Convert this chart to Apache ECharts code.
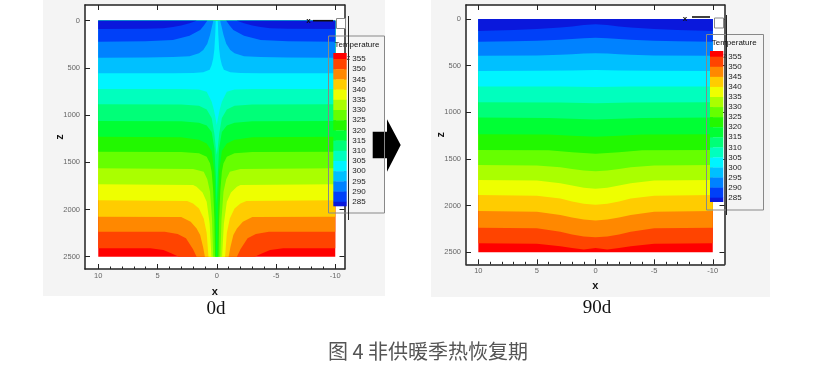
<!DOCTYPE html>
<html><head><meta charset="utf-8">
<script src="https://cdn.jsdelivr.net/npm/echarts@6/dist/echarts.min.js"></script>
<style>html,body{margin:0;padding:0;background:#fff}#c{width:830px;height:375px}</style>
</head><body><div id="c"></div><script>
// ---- data ----
const levels = [355, 350, 345, 340, 335, 330, 325, 320, 315, 310, 305, 300, 295, 290, 285];
// band colours, coldest (<285) first, hottest (>355) last
const bandColors = ['#0a18dc','#0040f8','#0082ff','#00c0ff','#00f4ff','#00ffbe','#00ff78','#00ff34',
                    '#22f800','#66ff00','#aaff00','#eeff00','#ffcc00','#ff8800','#ff4400','#ff0000'];
const xMajorTicks = [10, 5, 0, -5, -10];
const xMinorTicks = [9, 8, 7, 6, 4, 3, 2, 1, -1, -2, -3, -4, -6, -7, -8, -9];
const zTicks = [0, 500, 1000, 1500, 2000, 2500];
const panelTitles = ['0d', '90d'];
const caption = '图 4 非供暖季热恢复期';
// contour lines (level 285 ... 355), half profile [x, z] from x=10 to x=0, mirrored about x=0
const contours0d = [
  [[10,88],[6,86],[4.5,80],[3.7,68],[3,52],[2.3,28],[1.7,0],[0,0]],
  [[10,222],[6,219],[3.7,204],[2.3,159],[1.4,98],[1.1,55],[0.85,10],[0.8,0],[0,0]],
  [[10,392],[6,390],[3.7,386],[2.3,376],[1.5,345],[1.14,310],[0.8,245],[0.57,151],[0.4,60],[0.29,0],[0,0]],
  [[10,557],[3.7,557],[2,555],[1.14,545],[0.6,520],[0.43,470],[0.3,400],[0.2,300],[0.13,150],[0.1,40],[0.08,0],[0,0]],
  [[10,723],[3,723],[1.5,728],[0.85,752],[0.43,858],[0.25,940],[0.12,1020],[0,1105]],
  [[10,886],[3,888],[1.5,900],[0.85,940],[0.43,1030],[0.2,1200],[0.08,1350],[0,1420]],
  [[10,1062],[3,1065],[1.5,1080],[0.85,1110],[0.43,1180],[0.2,1350],[0.08,1650],[0,1950]],
  [[10,1229],[3,1235],[1.5,1260],[0.85,1300],[0.43,1380],[0.2,1600],[0.1,2000],[0.05,2500],[0,2500]],
  [[10,1388],[3,1390],[1.5,1405],[0.85,1441],[0.57,1510],[0.43,1600],[0.3,1800],[0.2,2100],[0.15,2500],[0,2500]],
  [[10,1564],[2,1570],[1.1,1599],[0.8,1680],[0.57,1811],[0.4,2100],[0.3,2500],[0,2500]],
  [[10,1733],[2,1740],[1.7,1758],[1.2,1820],[0.85,1917],[0.6,2150],[0.45,2500],[0,2500]],
  [[10,1903],[2.5,1910],[2,1935],[1.5,1990],[1.1,2094],[0.85,2250],[0.7,2500],[0,2500]],
  [[10,2076],[3,2080],[2.2,2129],[1.7,2200],[1.4,2270],[1.15,2400],[1.0,2500],[0,2500]],
  [[10,2235],[4.4,2235],[3.3,2260],[2.6,2305],[2.0,2420],[1.7,2500],[0,2500]],
  [[10,2411],[5.6,2411],[4.5,2430],[3.8,2465],[3.2,2500],[0,2500]]
];
const contours90d = [
  [[10,128],[7,118],[5,107],[3,90],[2,80],[1,65],[0,57]],
  [[10,243],[7,238],[5,233],[3,222],[2,214],[1,206],[0,202]],
  [[10,393],[5,390],[3,383],[2,378],[1,370],[0,366]],
  [[10,557],[5,556],[2,552],[0,547]],
  [[10,723],[3,724],[0,728]],
  [[10,893],[3,896],[0,903]],
  [[10,1057],[4,1060],[2,1068],[0,1078]],
  [[10,1235],[4,1238],[2,1250],[0,1262]],
  [[10,1404],[4,1408],[2,1428],[0,1445]],
  [[10,1565],[5,1570],[3,1590],[2,1608],[1,1625],[0,1632]],
  [[10,1726],[5,1732],[3,1760],[2,1785],[1,1808],[0,1818]],
  [[10,1886],[5,1893],[3,1925],[2,1955],[1,1980],[0,1990]],
  [[10,2058],[5,2066],[3,2100],[2,2128],[1,2150],[0,2160]],
  [[10,2237],[5,2242],[3,2280],[2,2310],[1,2332],[0,2340]],
  [[10,2404],[5,2410],[3,2435],[2,2455],[1,2470],[0,2455]]
];

// ---- helpers ----
function fullPath(half) {
  const other = half.slice().reverse().filter(p => p[0] > 0).map(p => [-p[0], p[1]]);
  return half.concat(other);
}
function bandSeries(contours, xi, yi) {
  const n = contours.length;
  const data = [];
  for (let k = n; k >= 0; k--) data.push([k]);
  return {
    type: 'custom', coordinateSystem: 'cartesian2d', xAxisIndex: xi, yAxisIndex: yi,
    clip: true, silent: true, animation: false, data: data,
    renderItem: function (params, api) {
      const k = api.value(0);
      let pts;
      if (k === n) pts = [[10, 0], [10, 2500], [-10, 2500], [-10, 0]];
      else pts = [[10, 0]].concat(fullPath(contours[k]), [[-10, 0]]);
      return { type: 'polygon', z2: 100 - k,
        shape: { points: pts.map(p => api.coord(p)) },
        style: { fill: bandColors[k], stroke: null } };
    }
  };
}
const F = '"Liberation Sans", Arial, sans-serif';
const lineSt = { color: '#222', width: 1.5 };
const plain = v => String(v);
function xAxes(g, xr, nameGap) {
  return [
    { gridIndex: g, type: 'value', position: 'bottom', min: xr[0], max: xr[1], inverse: true,
      axisLine: { show: true, onZero: false, lineStyle: lineSt }, splitLine: { show: false },
      axisTick: { show: true, inside: true, length: 5, customValues: xMajorTicks, lineStyle: { color: '#222', width: 1 } },
      axisLabel: { show: true, margin: 3, customValues: xMajorTicks, formatter: plain, fontSize: 7.5, color: '#666', fontFamily: F },
      name: 'x', nameLocation: 'middle', nameGap: nameGap, nameMoveOverlap: false,
      nameTextStyle: { fontSize: 11, fontWeight: 'bold', color: '#111', fontFamily: F } },
    { gridIndex: g, type: 'value', position: 'bottom', min: xr[0], max: xr[1], inverse: true,
      axisLine: { show: false, onZero: false }, splitLine: { show: false },
      axisTick: { show: true, inside: true, length: 2.5, customValues: xMinorTicks, lineStyle: { color: '#222', width: 1 } },
      axisLabel: { show: false } },
    { gridIndex: g, type: 'value', position: 'top', min: xr[0], max: xr[1], inverse: true,
      axisLine: { show: true, onZero: false, lineStyle: lineSt }, splitLine: { show: false },
      axisTick: { show: true, inside: true, length: 5, customValues: xMajorTicks, lineStyle: { color: '#222', width: 1 } },
      axisLabel: { show: false } }
  ];
}
function yAxes(g, yr, nameGap) {
  return [
    { gridIndex: g, type: 'value', position: 'left', min: yr[0], max: yr[1], inverse: true,
      axisLine: { show: true, onZero: false, lineStyle: lineSt }, splitLine: { show: false },
      axisTick: { show: true, inside: true, length: 5, customValues: zTicks, lineStyle: { color: '#222', width: 1 } },
      axisLabel: { show: true, margin: 5, customValues: zTicks, formatter: plain, fontSize: 7.5, color: '#666', fontFamily: F },
      name: 'z', nameLocation: 'middle', nameGap: nameGap, nameRotate: 90, nameMoveOverlap: false,
      nameTextStyle: { fontSize: 11, fontWeight: 'bold', color: '#111', fontFamily: F } },
    { gridIndex: g, type: 'value', position: 'right', min: yr[0], max: yr[1], inverse: true,
      axisLine: { show: true, onZero: false, lineStyle: lineSt }, splitLine: { show: false },
      axisTick: { show: true, inside: true, length: 5, customValues: zTicks, lineStyle: { color: '#222', width: 1 } },
      axisLabel: { show: false } }
  ];
}
function legend(L) {
  const els = [];
  els.push({ type: 'rect', z: 100, shape: { x: L.bx, y: L.by, width: L.bw, height: L.bh },
    style: { fill: 'none', stroke: '#888', lineWidth: 1 } });
  els.push({ type: 'text', z: 101, x: L.tx, y: L.ty,
    style: { text: 'Temperature', font: '8px ' + F, fill: '#111', verticalAlign: 'middle', align: 'left' } });
  const n = levels.length;
  const yAt = i => L.l0 + L.step * i;
  for (let t = 0; t <= n; t++) {
    const k = n - t;
    const y0 = t === 0 ? L.sTop : yAt(t - 1);
    const y1 = t === n ? L.sBot : yAt(t);
    els.push({ type: 'rect', z: 100, shape: { x: L.sx, y: y0, width: L.sw, height: y1 - y0 + 0.3 },
      style: { fill: bandColors[k] } });
  }
  levels.forEach((v, i) => {
    els.push({ type: 'text', z: 101, x: L.lx, y: yAt(i),
      style: { text: String(v), font: '8px ' + F, fill: '#222', verticalAlign: 'middle', align: 'left' } });
  });
  return els;
}
function triad(T) {
  return [
    { type: 'text', z: 102, x: T.xx, y: T.xy, style: { text: 'x', font: 'bold 8px ' + F, fill: '#111', align: 'center', verticalAlign: 'middle' } },
    { type: 'line', z: 102, shape: { x1: T.l1, y1: T.ly, x2: T.l2, y2: T.ly }, style: { stroke: '#111', lineWidth: 1.6 } },
    { type: 'rect', z: 102, shape: { x: T.bx, y: T.by, width: 9, height: 10 }, style: { fill: '#fff', stroke: '#888', lineWidth: 1 } },
    { type: 'line', z: 102, shape: { x1: T.vx, y1: T.vy1, x2: T.vx, y2: T.vy2 }, style: { stroke: '#222', lineWidth: 1 } },
    { type: 'text', z: 102, x: T.zx, y: T.zy, style: { text: 'z', font: '7px ' + F, fill: '#333', align: 'center', verticalAlign: 'middle' } }
  ];
}

const graphics = [
  { type: 'rect', z: -10, shape: { x: 43, y: 0, width: 342, height: 296 }, style: { fill: '#f4f4f4' } },
  { type: 'rect', z: -10, shape: { x: 431, y: 0, width: 339, height: 297 }, style: { fill: '#f4f4f4' } },
  { type: 'polygon', z: 100, shape: { points: [[372.7,131.7],[387,131.7],[387,119.3],[400.7,145],[387,171.7],[387,158.3],[372.7,158.3]] },
    style: { fill: '#000' } },
  { type: 'text', z: 100, x: 216, y: 309, style: { text: panelTitles[0], font: '19px "Liberation Serif", "Times New Roman", serif', fill: '#111', align: 'center', verticalAlign: 'middle' } },
  { type: 'text', z: 100, x: 597, y: 308, style: { text: panelTitles[1], font: '19px "Liberation Serif", "Times New Roman", serif', fill: '#111', align: 'center', verticalAlign: 'middle' } },
  { type: 'text', z: 100, x: 428, y: 351, style: { text: caption, font: '20px "Noto Sans CJK SC", sans-serif', fill: '#555', align: 'center', verticalAlign: 'middle' } }
].concat(
  legend({ bx: 328.5, by: 36, bw: 56, bh: 177, tx: 334.5, ty: 45, sx: 333.3, sw: 13.4, l0: 59, step: 10.2, sTop: 53, sBot: 206, lx: 352.3 }),
  legend({ bx: 706.5, by: 34.5, bw: 57, bh: 175.5, tx: 711.7, ty: 43, sx: 710, sw: 13.3, l0: 56.7, step: 10.07, sTop: 51, sBot: 201.7, lx: 728.3 }),
  triad({ xx: 308.5, xy: 21, l1: 313, l2: 333, ly: 20.7, bx: 336.5, by: 18.5, vx: 348.5, vy1: 16, vy2: 220, zx: 348.5, zy: 58 }),
  triad({ xx: 685, xy: 18.5, l1: 692, l2: 710, ly: 17, bx: 714.5, by: 18, vx: 726.5, vy1: 15, vy2: 215, zx: 725, zy: 56 })
);

const chart = echarts.init(document.getElementById('c'), null, { renderer: 'canvas' });
chart.setOption({
  animation: false,
  backgroundColor: '#fff',
  grid: [
    { left: 85, top: 5, width: 259.5, height: 264, show: true, backgroundColor: '#fff', borderWidth: 0, containLabel: false, outerBoundsMode: 'none' },
    { left: 466, top: 5, width: 258.5, height: 259.3, show: true, backgroundColor: '#fff', borderWidth: 0, containLabel: false, outerBoundsMode: 'none' }
  ],
  xAxis: xAxes(0, [-10.78, 11.12], 17).concat(xAxes(1, [-11.0, 11.05], 16)),
  yAxis: yAxes(0, [-166, 2630], 20).concat(yAxes(1, [-150, 2629], 20)),
  series: [bandSeries(contours0d, 0, 0), bandSeries(contours90d, 3, 2)],
  graphic: { elements: graphics }
});
</script></body></html>
